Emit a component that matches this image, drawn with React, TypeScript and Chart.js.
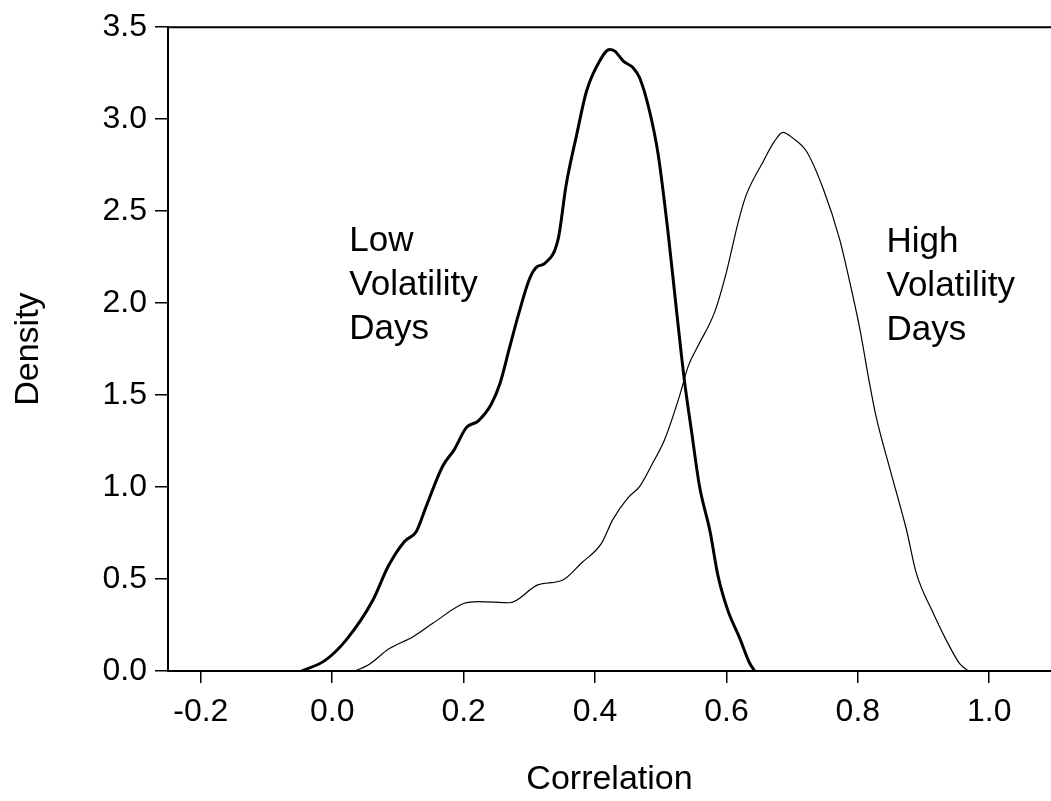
import React, { useEffect, useRef } from "react";
import { Chart, registerables } from "chart.js";

Chart.register(...registerables);

// Low volatility days (thick curve)
const lowX = [-0.047, -0.012, 0.021, 0.062, 0.085, 0.110, 0.128, 0.143, 0.168, 0.186, 0.204, 0.222, 0.242, 0.255, 0.270, 0.283, 0.300, 0.311, 0.323, 0.344, 0.356, 0.372, 0.387, 0.407, 0.422, 0.430, 0.443, 0.458, 0.468, 0.483, 0.496, 0.511, 0.524, 0.536, 0.547, 0.559, 0.575, 0.587, 0.602, 0.620, 0.635, 0.643];
const lowY = [0.0, 0.055, 0.168, 0.386, 0.568, 0.704, 0.759, 0.895, 1.113, 1.205, 1.323, 1.359, 1.450, 1.560, 1.760, 1.932, 2.130, 2.196, 2.215, 2.351, 2.642, 2.915, 3.152, 3.316, 3.379, 3.370, 3.316, 3.279, 3.224, 3.043, 2.810, 2.388, 1.960, 1.580, 1.300, 1.004, 0.760, 0.520, 0.331, 0.180, 0.045, 0.0];

// High volatility days (thin curve)
const highX = [0.034, 0.054, 0.087, 0.123, 0.153, 0.201, 0.222, 0.270, 0.313, 0.351, 0.379, 0.410, 0.427, 0.450, 0.468, 0.488, 0.506, 0.529, 0.542, 0.557, 0.582, 0.600, 0.618, 0.630, 0.656, 0.673, 0.686, 0.701, 0.722, 0.747, 0.772, 0.788, 0.803, 0.818, 0.828, 0.849, 0.874, 0.889, 0.915, 0.940, 0.955, 0.968];
const highY = [0.0, 0.031, 0.122, 0.186, 0.259, 0.368, 0.377, 0.371, 0.468, 0.495, 0.586, 0.695, 0.823, 0.941, 1.004, 1.132, 1.259, 1.500, 1.659, 1.769, 1.951, 2.169, 2.442, 2.587, 2.770, 2.879, 2.928, 2.897, 2.824, 2.624, 2.351, 2.110, 1.860, 1.560, 1.380, 1.096, 0.768, 0.532, 0.313, 0.131, 0.040, 0.0];

const xTicks = [-0.2, 0.0, 0.2, 0.4, 0.6, 0.8, 1.0];
const yTicks = [0.0, 0.5, 1.0, 1.5, 2.0, 2.5, 3.0, 3.5];

const xTitle = "Correlation";
const yTitle = "Density";
const lowLabel = ["Low", "Volatility", "Days"];
const highLabel = ["High", "Volatility", "Days"];
const lowLabelPos = [0.026, 2.285];
const highLabelPos = [0.8436, 2.28];

const FONT = "'Liberation Sans', Arial, Helvetica, sans-serif";

export default function App() {
  const ref = useRef<HTMLCanvasElement | null>(null);

  useEffect(() => {
    if (!ref.current) return;
    const framePlugin = {
      id: "frame",
      afterDraw(chart: any) {
        const { ctx, chartArea } = chart;
        ctx.save();
        ctx.strokeStyle = "#000";
        ctx.lineWidth = 2;
        ctx.beginPath();
        ctx.moveTo(chartArea.left - 1, chartArea.top);
        ctx.lineTo(chart.width, chartArea.top);
        ctx.stroke();

        const xs = chart.scales.x;
        const ys = chart.scales.y;
        ctx.fillStyle = "#000";
        ctx.font = `35px ${FONT}`;
        ctx.textBaseline = "alphabetic";
        ctx.textAlign = "left";
        const drawBlock = (lines: string[], pos: number[]) => {
          const px = xs.getPixelForValue(pos[0]);
          const py = ys.getPixelForValue(pos[1]);
          lines.forEach((l, i) => ctx.fillText(l, px, py + i * 44));
        };
        drawBlock(lowLabel, lowLabelPos);
        drawBlock(highLabel, highLabelPos);
        ctx.restore();
      },
    };

    const chart = new Chart(ref.current, {
      type: "line",
      data: {
        datasets: [
          {
            label: "Low Volatility Days",
            data: lowX.map((x, i) => ({ x, y: lowY[i] })),
            borderColor: "#000",
            borderWidth: 3,
            pointRadius: 0,
            fill: false,
            cubicInterpolationMode: "monotone",
          },
          {
            label: "High Volatility Days",
            data: highX.map((x, i) => ({ x, y: highY[i] })),
            borderColor: "#000",
            borderWidth: 1.2,
            pointRadius: 0,
            fill: false,
            cubicInterpolationMode: "monotone",
          },
        ],
      },
      options: {
        animation: false,
        responsive: false,
        devicePixelRatio: 1,
        layout: { padding: { top: 27, right: 0, bottom: 0, left: 0 } },
        plugins: { legend: { display: false }, tooltip: { enabled: false } },
        scales: {
          x: {
            type: "linear",
            min: -0.25,
            max: 1.094,
            afterBuildTicks: (s: any) => {
              s.ticks = xTicks.map((v) => ({ value: v }));
            },
            afterFit: (s: any) => {
              s.height = 130;
            },
            grid: { drawOnChartArea: false, drawTicks: true, tickLength: 12, color: "#000", lineWidth: 1.5 },
            border: { display: true, color: "#000", width: 2 },
            ticks: {
              color: "#000",
              font: { family: FONT, size: 32 },
              padding: 10,
              maxRotation: 0,
              autoSkip: false,
              callback: (v: any) => Number(v).toFixed(1),
            },
            title: {
              display: true,
              text: xTitle,
              color: "#000",
              font: { family: FONT, size: 34 },
              padding: { top: 0, bottom: 1 },
            },
          },
          y: {
            type: "linear",
            min: 0,
            max: 3.5,
            afterBuildTicks: (s: any) => {
              s.ticks = yTicks.map((v) => ({ value: v }));
            },
            afterFit: (s: any) => {
              s.width = 168;
            },
            grid: { drawOnChartArea: false, drawTicks: true, tickLength: 13, color: "#000", lineWidth: 1.5 },
            border: { display: true, color: "#000", width: 2 },
            ticks: {
              color: "#000",
              font: { family: FONT, size: 32 },
              padding: 8,
              autoSkip: false,
              callback: (v: any) => Number(v).toFixed(1),
            },
            title: {
              display: true,
              text: yTitle,
              color: "#000",
              font: { family: FONT, size: 34 },
              padding: { top: 8, bottom: 0 },
            },
          },
        },
      },
      plugins: [framePlugin],
    } as any);

    return () => chart.destroy();
  }, []);

  return (
    <div style={{ position: "fixed", left: 0, top: 0, width: 1051, height: 801, background: "#fff" }}>
      <canvas ref={ref} width={1051} height={801} style={{ width: 1051, height: 801, display: "block" }} />
    </div>
  );
}
